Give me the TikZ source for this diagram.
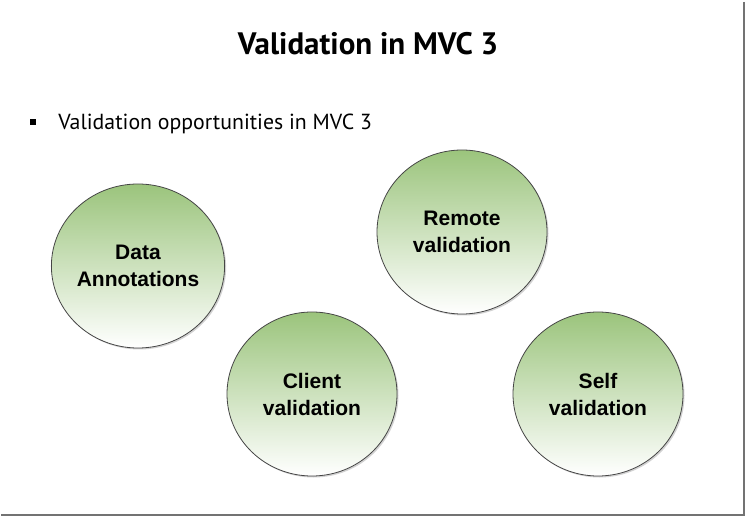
\documentclass[tikz,border=0pt]{standalone}
\usepackage{fontspec}
\setmainfont{Liberation Sans}
\newfontfamily\slidefont{PT Sans}
\usetikzlibrary{positioning,shapes.geometric,shadows}

\definecolor{leafgreen}{RGB}{155,196,124}
\definecolor{rimgrey}{RGB}{70,70,70}

\begin{document}
\begin{tikzpicture}[x=1pt,y=-1pt]
    \tikzset{
        bubble/.style={ellipse, minimum width=170pt, minimum height=164pt,
            inner sep=0pt, draw=rimgrey, line width=0.8pt,
            top color=leafgreen, middle color=leafgreen!45, bottom color=white,
            drop shadow={shadow xshift=1.5pt, shadow yshift=-1.5pt, opacity=0.35},
            align=center, font=\fontsize{21}{27}\selectfont\bfseries},
        bulletmark/.style={fill=black, minimum size=6pt, inner sep=0pt},
        slidetext/.style={anchor=west, inner sep=0pt, font=\slidefont\fontsize{21.8}{26}\selectfont}
    }

    % page and its frame
    \fill[white] (0,0) rectangle (747,518);
    \useasboundingbox (0,0) rectangle (747,518);
    \draw[gray!90!black, line width=1.6pt] (744,2) -- (744,515) -- (1,515);

    % heading
    \node[font=\slidefont\bfseries\fontsize{31}{35}\selectfont] (title) at (368,44)
        {Validation in MVC 3};
    \node[bulletmark] (mark) at (33,122) {};
    \node[slidetext, right=22pt of mark, yshift=-1.5pt] (point) {Validation opportunities in MVC 3};

    % the four bubbles
    \node[bubble] (annot) at (138,266) {Data\\Annotations};
    \node[bubble] (remote) at (462,232) {Remote\\validation};
    \node[bubble] (client) at (312,394) {Client\\validation};
    \node[bubble] (self) at (598,394) {Self\\validation};

\end{tikzpicture}
\end{document}
